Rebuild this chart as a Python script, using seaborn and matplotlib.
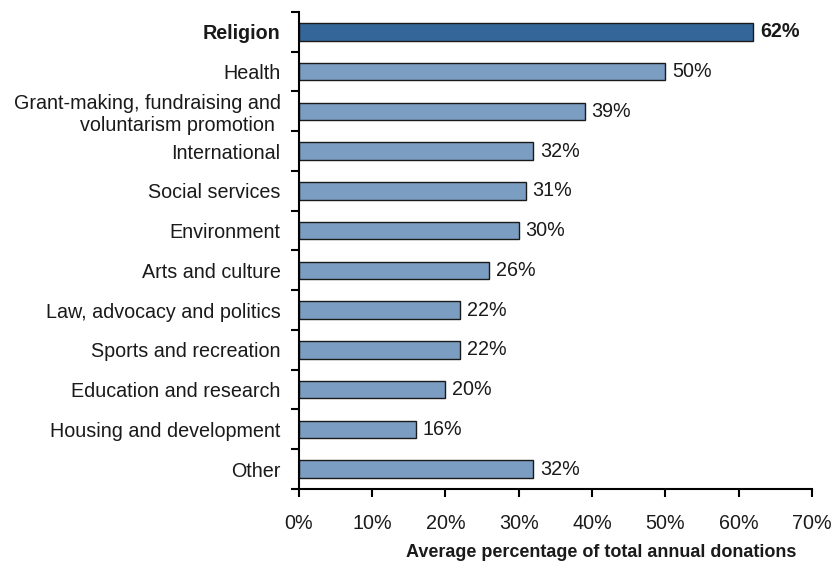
import matplotlib
matplotlib.use("Agg")
import matplotlib.pyplot as plt
import seaborn as sns
import pandas as pd
from matplotlib.ticker import FixedLocator, PercentFormatter

categories = [
    "Religion",
    "Health",
    "Grant-making, fundraising and\nvoluntarism promotion ",
    "International",
    "Social services",
    "Environment",
    "Arts and culture",
    "Law, advocacy and politics",
    "Sports and recreation",
    "Education and research",
    "Housing and development",
    "Other",
]
values = [62, 50, 39, 32, 31, 30, 26, 22, 22, 20, 16, 32]
highlight = "Religion"

FS = 14.2

sns.set_theme(style="white")
plt.rcParams["font.family"] = ["Liberation Sans", "DejaVu Sans"]
plt.rcParams["font.size"] = FS

df = pd.DataFrame({"category": categories, "value": values})
palette = {c: ("#356699" if c == highlight else "#7b9dc1") for c in categories}

fig = plt.figure(figsize=(8.32, 5.67), dpi=100)
ax = fig.add_axes([0.359, 0.1376, 0.617, 0.8414])

sns.barplot(data=df, x="value", y="category", hue="category", palette=palette,
            legend=False, width=0.44, edgecolor="#1a1a1a", linewidth=1.0,
            saturation=1, ax=ax)

ax.set_xlim(0, 70)
ax.set_ylim(len(categories) - 0.5, -0.5)
ax.xaxis.set_major_locator(FixedLocator(range(0, 71, 10)))
ax.xaxis.set_major_formatter(PercentFormatter(decimals=0))

# tick marks sit between categories, labels at the bar centres
ax.yaxis.set_minor_locator(FixedLocator([i - 0.5 for i in range(len(categories) + 1)]))
ax.tick_params(axis="y", which="major", length=0, pad=13, labelsize=FS, colors="#1a1a1a")
ax.tick_params(axis="y", which="minor", length=6, width=1.5, color="black", direction="out", left=True)
ax.tick_params(axis="x", which="major", length=6, width=1.5, color="black", direction="out",
               bottom=True, pad=12, labelsize=FS, labelcolor="#1a1a1a")

for lab in ax.get_yticklabels():
    if lab.get_text() == highlight:
        lab.set_fontweight("bold")

for s in ["top", "right"]:
    ax.spines[s].set_visible(False)
for s in ["left", "bottom"]:
    ax.spines[s].set_color("black")
    ax.spines[s].set_linewidth(1.5)

for i, (c, v) in enumerate(zip(categories, values)):
    ax.text(v + 0.9, i, f"{v}%", va="center", ha="left", fontsize=FS, color="#1a1a1a",
            fontweight="bold" if c == highlight else "normal")

ax.set_ylabel("")
ax.set_xlabel("Average percentage of total annual donations", fontweight="bold",
              fontsize=13, labelpad=13, color="#1a1a1a")
ax.xaxis.set_label_coords(0.589, -0.115)

fig.savefig("out.png", dpi=100)
